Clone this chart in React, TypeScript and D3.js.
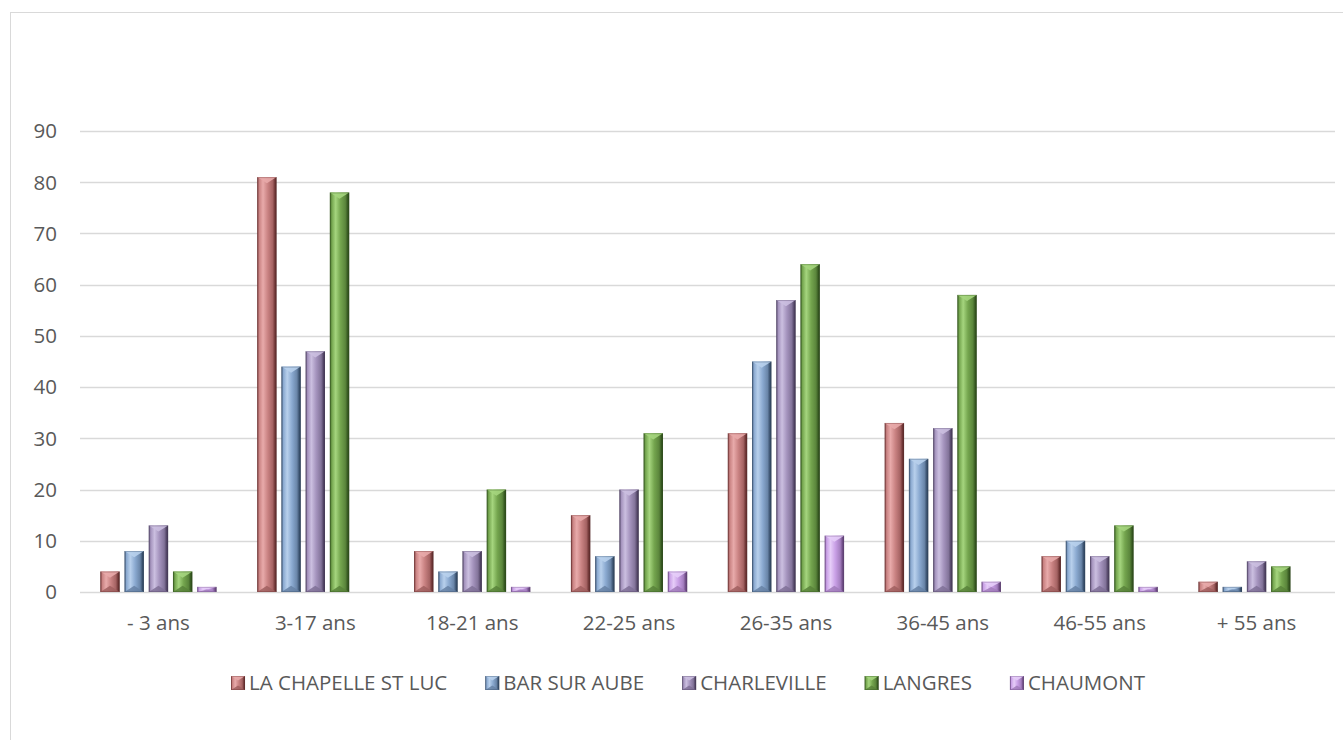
import React, { useEffect, useRef } from "react";
import * as d3 from "d3";

const categories = ["- 3 ans", "3-17 ans", "18-21 ans", "22-25 ans", "26-35 ans", "36-45 ans", "46-55 ans", "+ 55 ans"];
const seriesNames = ["LA CHAPELLE ST LUC", "BAR SUR AUBE", "CHARLEVILLE", "LANGRES", "CHAUMONT"];
const laChapelle = [4, 81, 8, 15, 31, 33, 7, 2];
const barSurAube = [8, 44, 4, 7, 45, 26, 10, 1];
const charleville = [13, 47, 8, 20, 57, 32, 7, 6];
const langres = [4, 78, 20, 31, 64, 58, 13, 5];
const chaumont = [1, 0, 1, 4, 11, 2, 1, 0];
const yTicks = [0, 10, 20, 30, 40, 50, 60, 70, 80, 90];

const seriesValues = [laChapelle, barSurAube, charleville, langres, chaumont];
const palette = [
  { base: "#c98282", light: "#e8aaaa", dark: "#6e3535" },
  { base: "#8aa9d0", light: "#b8d0ec", dark: "#3a516e" },
  { base: "#a493bd", light: "#cbbfe0", dark: "#524566" },
  { base: "#74a54e", light: "#a5d57e", dark: "#365821" },
  { base: "#c9a0e6", light: "#e6cdf8", dark: "#6f4d86" },
];

export default function App() {
  const ref = useRef<SVGSVGElement>(null);

  useEffect(() => {
    const svg = d3.select(ref.current);
    svg.selectAll("*").remove();
    const font = "'Open Sans', 'Noto Sans', sans-serif";
    const fs = 20.5;

    const defs = svg.append("defs");
    palette.forEach((p, i) => {
      const g = defs.append("linearGradient").attr("id", "g" + i).attr("x1", "0").attr("x2", "1").attr("y1", "0").attr("y2", "0");
      const stops: [number, string][] = [
        [0, p.dark],
        [0.1, p.base],
        [0.3, p.light],
        [0.55, p.base],
        [0.8, d3.interpolateRgb(p.base, p.dark)(0.4)],
        [0.92, p.dark],
        [1, d3.interpolateRgb(p.dark, "#000")(0.3)],
      ];
      stops.forEach(([o, c]) => g.append("stop").attr("offset", o).attr("stop-color", c));
    });

    // chart border
    svg.append("rect").attr("x", 10.5).attr("y", 12.5).attr("width", 1400).attr("height", 800)
      .attr("fill", "#fff").attr("stroke", "#d9d9d9").attr("stroke-width", 1);

    const y = d3.scaleLinear().domain([0, 90]).range([592, 131]);
    const x0 = d3.scaleBand<string>().domain(categories).range([80, 1335]).paddingInner(0.228).paddingOuter(0.114);
    const x1 = d3.scaleBand<string>().domain(seriesNames).range([0, x0.bandwidth()]).paddingInner(0.2).paddingOuter(0.1);

    // gridlines
    svg.append("g").selectAll("line").data(yTicks).join("line")
      .attr("x1", 80).attr("x2", 1335)
      .attr("y1", (d) => Math.round(y(d)) + 0.5).attr("y2", (d) => Math.round(y(d)) + 0.5)
      .attr("stroke", "#d9d9d9").attr("stroke-width", 1.3);

    // y labels
    svg.append("g").selectAll("text").data(yTicks).join("text")
      .attr("x", 57).attr("y", (d) => y(d)).attr("dy", "0.36em")
      .attr("text-anchor", "end").attr("font-family", font).attr("font-size", fs).attr("fill", "#595959")
      .text((d) => String(d));

    // x labels
    svg.append("g").selectAll("text").data(categories).join("text")
      .attr("x", (d) => (x0(d) as number) + x0.bandwidth() / 2).attr("y", 623).attr("dy", "0.36em")
      .attr("text-anchor", "middle").attr("font-family", font).attr("font-size", fs).attr("fill", "#595959")
      .text((d) => d);

    const drawBevelBar = (g: any, bx: number, by: number, bw: number, bh: number, si: number) => {
      if (bh <= 0) return;
      const p = palette[si];
      g.append("rect").attr("x", bx).attr("y", by).attr("width", bw).attr("height", bh).attr("fill", `url(#g${si})`);
      const bev = Math.min(bw * 0.32, bh / 2);
      g.append("path")
        .attr("d", `M${bx},${by}L${bx + bw},${by}L${bx + bw / 2},${by + bev}Z`)
        .attr("fill", p.light).attr("opacity", 0.9);
      g.append("path")
        .attr("d", `M${bx},${by + bh}L${bx + bw},${by + bh}L${bx + bw / 2},${by + bh - bev}Z`)
        .attr("fill", d3.interpolateRgb(p.base, p.dark)(0.45)).attr("opacity", 0.85);
      g.append("rect").attr("x", bx + 0.5).attr("y", by + 0.5).attr("width", bw - 1).attr("height", Math.max(bh - 1, 0))
        .attr("fill", "none").attr("stroke", p.dark).attr("stroke-opacity", 0.35).attr("stroke-width", 1);
    };

    const bars = svg.append("g");
    categories.forEach((c, ci) => {
      seriesNames.forEach((s, si) => {
        const v = seriesValues[si][ci];
        if (v <= 0) return;
        const bx = (x0(c) as number) + (x1(s) as number);
        const by = y(v);
        drawBevelBar(bars, bx, by, x1.bandwidth(), y(0) - by, si);
      });
    });

    // legend
    const lg = svg.append("g");
    const items = seriesNames.map((s, i) => {
      const t = lg.append("text").attr("font-family", font).attr("font-size", fs).attr("fill", "#595959")
        .attr("y", 683).attr("dy", "0.36em").text(s);
      const w = (t.node() as SVGTextElement).getComputedTextLength();
      return { t, w, i };
    });
    const sq = 14, gapSq = 4, gapItem = 38;
    const total = d3.sum(items, (d) => sq + gapSq + d.w) + gapItem * (items.length - 1);
    let cx = 688 - total / 2;
    items.forEach((it) => {
      drawBevelBar(lg, cx, 676, sq, sq, it.i);
      it.t.attr("x", cx + sq + gapSq);
      cx += sq + gapSq + it.w + gapItem;
    });
  }, []);

  return (
    <svg ref={ref} width={1343} height={740} style={{ position: "absolute", left: 0, top: 0, background: "#fff" }} />
  );
}
